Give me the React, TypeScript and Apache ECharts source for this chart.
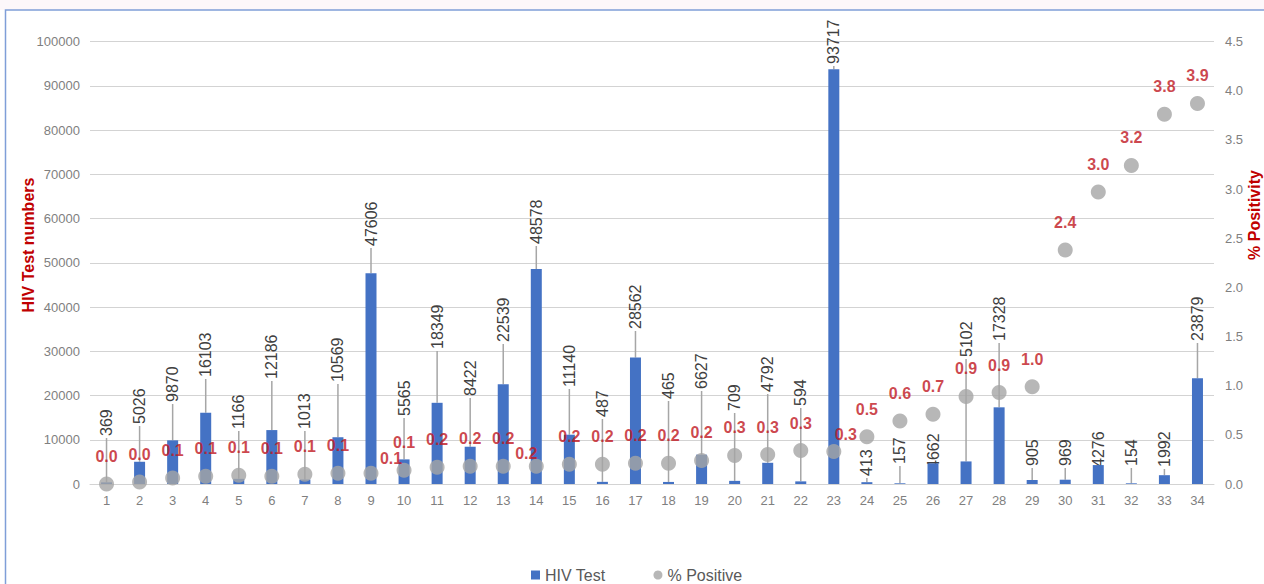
import React, { useEffect, useRef } from "react";
import * as echarts from "echarts";

const categories = [
  "1", "2", "3", "4", "5", "6", "7", "8", "9", "10", "11", "12", "13", "14", "15", "16", "17",
  "18", "19", "20", "21", "22", "23", "24", "25", "26", "27", "28", "29", "30", "31", "32", "33", "34",
];

const hivTests = [
  369, 5026, 9870, 16103, 1166, 12186, 1013, 10569, 47606, 5565, 18349, 8422, 22539, 48578, 11140, 487,
  28562, 465, 6627, 709, 4792, 594, 93717, 413, 157, 4662, 5102, 17328, 905, 969, 4276, 154, 1992, 23879,
];

const positivePct = [
  0.0, 0.02, 0.06, 0.08, 0.09, 0.08, 0.1, 0.11, 0.11, 0.14, 0.17, 0.18, 0.18, 0.18, 0.2, 0.2, 0.21,
  0.21, 0.24, 0.29, 0.3, 0.34, 0.33, 0.48, 0.64, 0.71, 0.89, 0.93, 0.99, 2.38, 2.97, 3.24, 3.76, 3.87,
];

// layout only: how far (px) above the axis each bar's value label starts
const barLabelLift = [
  48, 60, 82, 107, 55, 105, 55, 102, 238, 68, 135, 88, 142, 240, 97, 67, 155, 85, 95, 73, 92, 78, 420,
  8, 20, 15, 127, 143, 18, 18, 17, 18, 17, 143,
];

// layout only: nudges for a few percentage labels (index -> [dx, dy])
const pctLabelNudge: Record<number, [number, number]> = {
  8: [20, 13],
  13: [-10, 15],
  22: [12, 10],
};

const FONT = "'Liberation Sans', Arial, Helvetica, sans-serif";

export default function App() {
  const ref = useRef<HTMLDivElement>(null);

  useEffect(() => {
    document.body.style.margin = "0";
    const chart = echarts.init(ref.current!, null, { renderer: "svg" });

    const pctData = positivePct.map((v, i) =>
      pctLabelNudge[i] ? { value: v, label: { offset: pctLabelNudge[i] } } : v
    );

    chart.setOption({
      animation: false,
      backgroundColor: "#ffffff",
      grid: { left: 90, right: 50, top: 41.5, bottom: 100 },
      legend: {
        data: [
          { name: "HIV Test", icon: "rect" },
          { name: "% Positive", icon: "circle" },
        ],
        left: 526,
        top: 562,
        itemWidth: 9,
        itemHeight: 9,
        itemGap: 48,
        textStyle: { color: "#595959", fontSize: 16, fontFamily: FONT },
      },
      xAxis: {
        type: "category",
        data: categories,
        axisTick: { show: false },
        axisLine: { lineStyle: { color: "#d3d3d3", width: 1 } },
        axisLabel: { color: "#7f7f7f", fontSize: 13, fontFamily: FONT, margin: 10 },
      },
      yAxis: [
        {
          type: "value",
          min: 0,
          max: 100000,
          interval: 10000,
          axisLine: { show: false },
          axisTick: { show: false },
          splitLine: { lineStyle: { color: "#d3d3d3", width: 1 } },
          axisLabel: {
            color: "#7f7f7f",
            fontSize: 13,
            fontFamily: FONT,
            margin: 10,
            formatter: (v: number) => String(v),
          },
        },
        {
          type: "value",
          min: 0,
          max: 4.5,
          interval: 0.5,
          axisLine: { show: false },
          axisTick: { show: false },
          splitLine: { show: false },
          axisLabel: {
            color: "#7f7f7f",
            fontSize: 13,
            fontFamily: FONT,
            margin: 11,
            formatter: (v: number) => v.toFixed(1),
          },
        },
      ],
      series: [
        {
          name: "HIV Test",
          type: "bar",
          data: hivTests,
          barWidth: 11,
          itemStyle: { color: "#4472c4" },
        },
        {
          name: "barLabels",
          type: "custom",
          silent: true,
          data: hivTests.map((v, i) => [i, v]),
          encode: { x: 0, y: 1 },
          renderItem: (params: any, api: any) => {
            const i = api.value(0);
            const v = api.value(1);
            const top = api.coord([i, v]);
            const base = api.coord([i, 0]);
            const x = top[0];
            const labelY = base[1] - barLabelLift[params.dataIndex];
            const children: any[] = [];
            if (labelY < top[1] - 3) {
              children.push({
                type: "line",
                shape: { x1: x, y1: top[1], x2: x, y2: labelY + 2 },
                style: { stroke: "#a6a6a6", lineWidth: 1.5 },
              });
            }
            children.push({
              type: "text",
              x,
              y: labelY,
              rotation: Math.PI / 2,
              style: {
                text: String(v),
                fill: "#404040",
                fontSize: 16,
                fontFamily: FONT,
                align: "left",
                verticalAlign: "middle",
              },
            });
            return { type: "group", children };
          },
        },
        {
          name: "% Positive",
          type: "scatter",
          yAxisIndex: 1,
          data: pctData,
          symbolSize: 15,
          itemStyle: { color: "#a5a5a5" },
          label: {
            show: true,
            position: "top",
            distance: 12,
            color: "#c0161e",
            fontSize: 16,
            fontWeight: "bold",
            fontFamily: FONT,
            formatter: (p: any) => Number(Array.isArray(p.value) ? p.value[1] : p.value).toFixed(1),
          },
        },
      ],
      graphic: [
        {
          type: "rect",
          silent: true,
          z: -10,
          shape: { x: 0, y: 0, width: 1264, height: 10 },
          style: { fill: "#fcf7fa" },
        },
        {
          type: "rect",
          silent: true,
          z: -9,
          shape: { x: 5.5, y: 10, width: 1300, height: 620 },
          style: { fill: "none", stroke: "#7f9ed8", lineWidth: 1.5 },
        },
        {
          type: "text",
          x: 28,
          y: 245,
          rotation: Math.PI / 2,
          style: {
            text: "HIV Test numbers",
            fill: "#c00000",
            fontSize: 16,
            fontWeight: "bold",
            fontFamily: FONT,
            align: "center",
            verticalAlign: "middle",
          },
        },
        {
          type: "text",
          x: 1254,
          y: 215,
          rotation: Math.PI / 2,
          style: {
            text: "% Positivity",
            fill: "#c00000",
            fontSize: 16,
            fontWeight: "bold",
            fontFamily: FONT,
            align: "center",
            verticalAlign: "middle",
          },
        },
      ],
    });

    return () => chart.dispose();
  }, []);

  return <div ref={ref} style={{ width: 1264, height: 584 }} />;
}
